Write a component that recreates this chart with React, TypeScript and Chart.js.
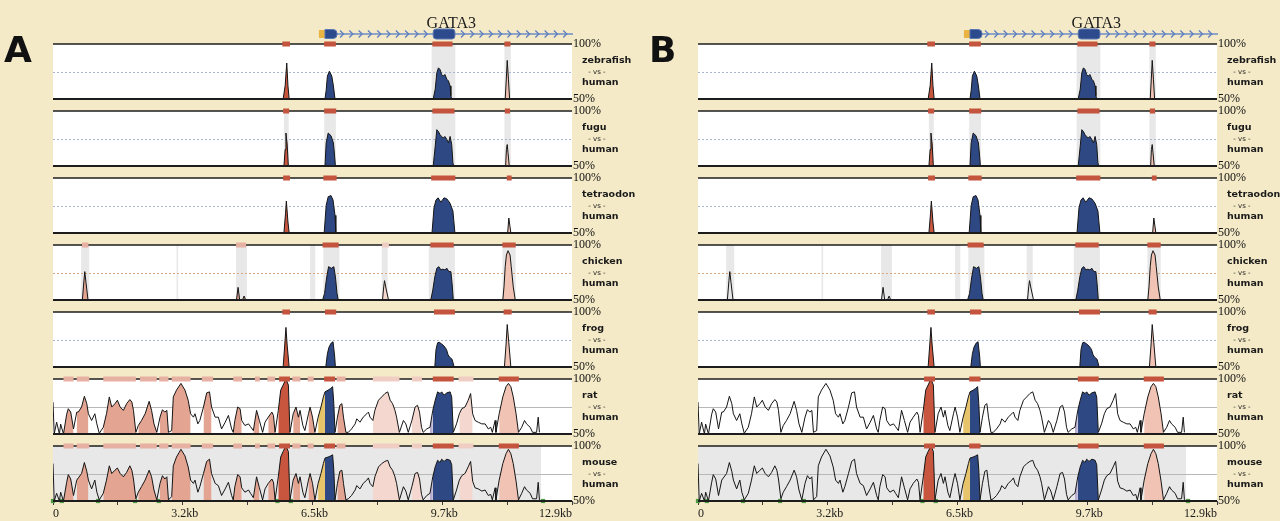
import React, { useEffect, useRef } from 'react';
import { Chart, registerables } from 'chart.js';

Chart.register(...registerables);

const BEIGE = '#f4eac7';
const CANVAS_W = 645;
const CANVAS_H = 521;
const PLOT_RIGHT = 572;

// ---------- axis / labels ----------
const trackNames = ['zebrafish', 'fugu', 'tetraodon', 'chicken', 'frog', 'rat', 'mouse'];
const midlineColors = ['#a9b6cf', '#a9b6cf', '#a9b6cf', '#d9aa80', '#a9b6cf', '#b8b8b8', '#b8b8b8'];
const xTickKb = [0, 1.6125, 3.225, 4.8375, 6.45, 8.0625, 9.675, 11.2875, 12.9];
const xTickText = ['0', '', '3.2kb', '', '6.5kb', '', '9.7kb', '', '12.9kb'];
const pctTicks = [50, 100];

// ---------- gene annotation ----------
const geneName = 'GATA3';
const geneSpanKb = [6.61, 12.9];
const geneUtrKb = [6.61, 6.76];
const geneExonsKb = [[6.76, 7.06], [9.45, 9.99]];

// ---------- conservation curves [kb, % identity] ----------
const zebrafishPct = [
  [5.72, 50], [5.77, 62], [5.81, 82.7], [5.84, 62], [5.87, 50],
  [6.76, 50], [6.79, 58], [6.82, 70.8], [6.87, 75.3], [6.93, 70.8], [6.97, 61.9], [7.01, 50],
  [9.45, 50], [9.5, 58.9], [9.54, 73.8], [9.58, 78.3], [9.62, 76.8], [9.66, 72.3], [9.7, 70.8],
  [9.74, 72.3], [9.79, 67.9], [9.83, 66.4], [9.87, 61.9], [9.89, 53], [9.91, 50],
  [11.24, 50], [11.27, 70], [11.29, 85.1], [11.32, 68], [11.35, 50],
];
const fuguPct = [
  [5.74, 50], [5.77, 65], [5.79, 80], [5.82, 70], [5.85, 50],
  [6.76, 50], [6.79, 71], [6.84, 80], [6.91, 77.5], [6.97, 71], [7.0, 59], [7.02, 50],
  [9.45, 50], [9.5, 68], [9.54, 83], [9.58, 81.4], [9.62, 78.4], [9.66, 76.9], [9.7, 75.4],
  [9.74, 76.9], [9.79, 74], [9.83, 71], [9.87, 76.9], [9.91, 69.5], [9.94, 53], [9.96, 50],
  [11.25, 50], [11.27, 65], [11.29, 69.5], [11.31, 62], [11.34, 50],
];
const tetraodonPct = [
  [5.74, 50], [5.78, 68], [5.8, 79], [5.84, 60], [5.87, 50],
  [6.74, 50], [6.79, 75], [6.84, 83], [6.91, 84], [6.96, 80], [7.01, 66], [7.03, 50],
  [9.42, 50], [9.47, 73], [9.52, 80], [9.57, 82], [9.64, 78], [9.72, 82], [9.79, 81],
  [9.87, 77], [9.94, 70], [9.99, 50],
  [11.3, 50], [11.33, 63.6], [11.38, 50],
];
const chickenPct = [
  [0.73, 50], [0.77, 68], [0.79, 75.8], [0.82, 66], [0.87, 50],
  [4.56, 50], [4.6, 61.5], [4.64, 50], [4.71, 50], [4.75, 53.6], [4.79, 50],
  [6.7, 50], [6.75, 56], [6.8, 70], [6.85, 80.3], [6.92, 78.8], [6.98, 80.3], [7.02, 71], [7.06, 56], [7.09, 50],
  [8.19, 50], [8.22, 62], [8.24, 67.6], [8.28, 60], [8.34, 50],
  [9.39, 50], [9.44, 59], [9.49, 71], [9.54, 78.8], [9.59, 80.3], [9.64, 77.4], [9.69, 78],
  [9.74, 77.4], [9.79, 78.8], [9.84, 75.8], [9.89, 75.8], [9.92, 65], [9.95, 50],
  [11.18, 50], [11.21, 62], [11.24, 80.3], [11.27, 90.9], [11.31, 94.8], [11.36, 90.9],
  [11.39, 80.3], [11.44, 62], [11.49, 50],
];
const frogPct = [
  [5.72, 50], [5.76, 70], [5.79, 86], [5.82, 70], [5.87, 50],
  [6.78, 50], [6.82, 62], [6.86, 68], [6.91, 71.5], [6.96, 73], [7.0, 60], [7.02, 50],
  [9.49, 50], [9.52, 66], [9.56, 72], [9.6, 72.5], [9.66, 71], [9.72, 69], [9.78, 66],
  [9.82, 61], [9.87, 58.5], [9.92, 57], [9.97, 50],
  [11.22, 50], [11.26, 70], [11.29, 88.6], [11.33, 72], [11.38, 50],
];
const ratPct = [
  [0, 79], [0.03, 50], [0.09, 60.7], [0.16, 50], [0.19, 59], [0.26, 50], [0.34, 68], [0.38, 73],
  [0.44, 70], [0.51, 54.6], [0.59, 69.9], [0.63, 70], [0.71, 74.5], [0.78, 84.3], [0.84, 77.6],
  [0.88, 68.4], [0.96, 62.3], [1.04, 68.4], [1.09, 59.2], [1.15, 50.6], [1.25, 56.1], [1.33, 68.4],
  [1.4, 83.7], [1.46, 74.5], [1.54, 77.6], [1.6, 80.7], [1.67, 74.5], [1.75, 71.5], [1.83, 77.6],
  [1.91, 81.3], [1.96, 79.1], [2.0, 71.5], [2.06, 51.5], [2.12, 57.7], [2.2, 62.3], [2.29, 68.4],
  [2.39, 79.7], [2.45, 71.5], [2.51, 59.2], [2.58, 51.5], [2.66, 65.3], [2.72, 72.1], [2.78, 69.9],
  [2.83, 71.5], [2.87, 51.5], [2.95, 53.1], [2.99, 83.7], [3.07, 89.9], [3.18, 96], [3.28, 89.9],
  [3.36, 80.7], [3.42, 68.4], [3.49, 65.3], [3.53, 68.4], [3.6, 59.2], [3.65, 62.3], [3.74, 74.5],
  [3.82, 87.4], [3.89, 88.3], [3.94, 74.5], [4.03, 65.3], [4.11, 65.3], [4.19, 54.6], [4.28, 60.7],
  [4.36, 66.9], [4.44, 54.6], [4.48, 51.5], [4.52, 62.3], [4.59, 74.5], [4.65, 73], [4.69, 62.3],
  [4.77, 57.7], [4.86, 59.2], [4.91, 56.7], [4.98, 53.1], [5.06, 71.5], [5.13, 62.3], [5.21, 51.5],
  [5.27, 60.7], [5.35, 65.3], [5.44, 69.9], [5.48, 66.9], [5.52, 51.5], [5.6, 71.5], [5.66, 89.9],
  [5.72, 94.5], [5.79, 100], [5.85, 94.5], [5.89, 51.5], [5.97, 68.4], [6.04, 74.5], [6.1, 65.3],
  [6.14, 71.5], [6.21, 57.7], [6.26, 53.1], [6.35, 68.4], [6.39, 74.5], [6.45, 65.3], [6.51, 51.5],
  [6.59, 65.3], [6.66, 74.5], [6.72, 83.7], [6.76, 88.3], [6.84, 89.9], [6.9, 91.4], [6.95, 93],
  [6.98, 77.6], [7.01, 51.5], [7.07, 65.3], [7.13, 76.1], [7.18, 77.6], [7.22, 65.3], [7.28, 51.5],
  [7.34, 51.5], [7.42, 54.6], [7.51, 59.2], [7.55, 63.8], [7.63, 60.7], [7.71, 65.3], [7.8, 68.4],
  [7.84, 69.9], [7.88, 65.3], [7.95, 62.3], [8.0, 71.5], [8.09, 80.7], [8.17, 83.7], [8.25, 86.8],
  [8.32, 88.3], [8.38, 80.7], [8.44, 77.6], [8.5, 71.5], [8.54, 65.3], [8.61, 51.5], [8.71, 62.3],
  [8.77, 59.2], [8.83, 51.5], [8.92, 62.3], [9.0, 74.5], [9.06, 76.1], [9.11, 69.9], [9.16, 56.1],
  [9.2, 51.5], [9.29, 54.6], [9.37, 56.1], [9.44, 71.5], [9.5, 80.7], [9.56, 88.3], [9.62, 86.8],
  [9.66, 88.3], [9.72, 85.3], [9.79, 87.4], [9.87, 88.3], [9.91, 83.7], [9.95, 51.5], [10.03, 59.2],
  [10.1, 68.4], [10.16, 73], [10.24, 74.5], [10.32, 80.7], [10.38, 86.8], [10.43, 68.4], [10.49, 62.3],
  [10.57, 60.7], [10.66, 59.2], [10.74, 59.2], [10.82, 54.6], [10.88, 56.1], [10.92, 51.5], [10.99, 62.3],
  [11.01, 51.5], [11.09, 68.4], [11.18, 83.7], [11.26, 93], [11.32, 96], [11.38, 93], [11.44, 83.7],
  [11.51, 68.4], [11.57, 51.5], [11.65, 56.1], [11.72, 62.3], [11.77, 59.2], [11.86, 56.1], [11.92, 51.5],
  [12.02, 51.5], [12.06, 65.3], [12.09, 51.5],
];
const mousePct = [
  [0, 84], [0.03, 50], [0.09, 57], [0.16, 50], [0.19, 58], [0.26, 50], [0.34, 67], [0.38, 74],
  [0.44, 70], [0.51, 55], [0.59, 69], [0.63, 71], [0.71, 75], [0.78, 85], [0.84, 77],
  [0.88, 69], [0.96, 61], [1.04, 69], [1.09, 58], [1.15, 51], [1.25, 57], [1.33, 69],
  [1.4, 82], [1.46, 75], [1.54, 78], [1.6, 80], [1.67, 75], [1.75, 72], [1.83, 76],
  [1.91, 82], [1.96, 78], [2.0, 70], [2.06, 52], [2.12, 58], [2.2, 63], [2.29, 69],
  [2.39, 78], [2.45, 72], [2.51, 60], [2.58, 51], [2.66, 66], [2.72, 73], [2.78, 70],
  [2.83, 72], [2.87, 51], [2.95, 54], [2.99, 82], [3.07, 90], [3.18, 97], [3.28, 91],
  [3.36, 81], [3.42, 69], [3.49, 66], [3.53, 69], [3.6, 58], [3.65, 63], [3.74, 75],
  [3.82, 86], [3.89, 88], [3.94, 75], [4.03, 66], [4.11, 64], [4.19, 55], [4.28, 61],
  [4.36, 67], [4.44, 55], [4.48, 51], [4.52, 63], [4.59, 74], [4.65, 72], [4.69, 62],
  [4.77, 58], [4.86, 60], [4.91, 57], [4.98, 53], [5.06, 72], [5.13, 62], [5.21, 51],
  [5.27, 61], [5.35, 66], [5.44, 70], [5.48, 67], [5.52, 51], [5.6, 72], [5.66, 90],
  [5.72, 95], [5.79, 100], [5.85, 95], [5.89, 51], [5.97, 69], [6.04, 75], [6.1, 66],
  [6.14, 72], [6.21, 58], [6.26, 53], [6.35, 69], [6.39, 75], [6.45, 66], [6.51, 51],
  [6.59, 66], [6.66, 75], [6.72, 84], [6.76, 89], [6.84, 90], [6.9, 91], [6.95, 92],
  [6.98, 78], [7.01, 51], [7.07, 66], [7.13, 77], [7.18, 78], [7.22, 66], [7.28, 51],
  [7.34, 52], [7.42, 55], [7.51, 60], [7.55, 64], [7.63, 61], [7.71, 66], [7.8, 69],
  [7.84, 71], [7.88, 66], [7.95, 63], [8.0, 72], [8.09, 81], [8.17, 84], [8.25, 86],
  [8.32, 87], [8.38, 81], [8.44, 78], [8.5, 72], [8.54, 66], [8.61, 51], [8.71, 63],
  [8.77, 59], [8.83, 51], [8.92, 63], [9.0, 75], [9.06, 76], [9.11, 70], [9.16, 56],
  [9.2, 51], [9.29, 55], [9.37, 57], [9.44, 72], [9.5, 81], [9.56, 87], [9.62, 85],
  [9.66, 88], [9.72, 86], [9.79, 88], [9.87, 87], [9.91, 83], [9.95, 51], [10.03, 60],
  [10.1, 69], [10.16, 73], [10.24, 75], [10.32, 81], [10.38, 86], [10.43, 68], [10.49, 62],
  [10.57, 61], [10.66, 59], [10.74, 60], [10.82, 55], [10.88, 56], [10.92, 51], [10.99, 62],
  [11.01, 51], [11.09, 69], [11.18, 84], [11.26, 93], [11.32, 97], [11.38, 93], [11.44, 84],
  [11.51, 68], [11.57, 51], [11.65, 57], [11.72, 63], [11.77, 60], [11.86, 57], [11.92, 52],
  [12.02, 52], [12.06, 67], [12.09, 51],
];
const mouseGreenKb = [0.0, 0.22, 1.12, 2.04, 2.63, 5.58, 5.91, 12.18];
const mouseShadeKb = [0, 12.13];

// ---------- highlighted regions [startKb, endKb, kind] ----------
const zebrafishRegions = [[5.7, 5.89, 'R'], [6.74, 7.03, 'B'], [9.43, 9.93, 'B'], [11.22, 11.37, 'P']];
const fuguRegions = [[5.72, 5.87, 'R'], [6.74, 7.04, 'B'], [9.43, 9.98, 'B'], [11.23, 11.36, 'P']];
const tetraodonRegions = [[5.72, 5.89, 'R'], [6.72, 7.05, 'B'], [9.4, 10.0, 'B'], [11.28, 11.4, 'P']];
const chickenRegionsA = [[0.72, 0.88, 'S'], [4.55, 4.8, 'S'], [6.7, 7.1, 'B'], [8.18, 8.35, 'L'], [9.38, 9.96, 'B'], [11.17, 11.5, 'P']];
const chickenRegionsB = [[6.7, 7.1, 'B'], [9.38, 9.96, 'B'], [11.17, 11.5, 'P']];
const frogRegions = [[5.7, 5.89, 'R'], [6.76, 7.04, 'B'], [9.47, 9.99, 'B'], [11.2, 11.4, 'P']];
const ratRegionsA = [
  [0.26, 0.51, 'S'], [0.59, 0.9, 'S'], [1.25, 2.06, 'S'], [2.16, 2.58, 'S'], [2.64, 2.87, 'S'],
  [2.95, 3.42, 'S'], [3.7, 3.98, 'S'], [4.48, 4.7, 'S'], [5.02, 5.14, 'S'], [5.33, 5.52, 'S'],
  [5.62, 5.89, 'R'], [5.95, 6.15, 'S'], [6.33, 6.48, 'S'], [6.58, 6.74, 'Y'], [6.74, 7.01, 'B'],
  [7.05, 7.27, 'S'], [7.95, 8.61, 'L'], [8.92, 9.17, 'L'], [9.36, 9.44, 'V'], [9.44, 9.96, 'B'],
  [10.08, 10.45, 'L'], [11.08, 11.58, 'P'],
];
const mouseRegionsA = ratRegionsA;
const ratRegionsB = [[5.62, 5.89, 'R'], [6.58, 6.74, 'Y'], [6.74, 7.02, 'B'], [9.36, 9.44, 'V'], [9.44, 9.96, 'B'], [11.08, 11.58, 'P']];
const mouseRegionsB = ratRegionsB;

// ---------- grey bands under conserved elements ----------
const zebrafishBands = [[9.41, 10.0], [11.22, 11.38]];
const fuguBands = [[5.74, 5.86], [6.74, 7.03], [9.41, 10.0], [11.22, 11.38]];
const chickenBands = [[0.7, 0.9], [3.07, 3.11], [4.55, 4.82], [6.39, 6.52], [6.72, 7.12], [8.17, 8.32], [9.34, 9.99], [11.17, 11.5]];

const trackCurves = [zebrafishPct, fuguPct, tetraodonPct, chickenPct, frogPct, ratPct, mousePct];
const trackBands = [zebrafishBands, fuguBands, [], chickenBands, [], [], []];
const regionsPanelA = [zebrafishRegions, fuguRegions, tetraodonRegions, chickenRegionsA, frogRegions, ratRegionsA, mouseRegionsA];
const regionsPanelB = [zebrafishRegions, fuguRegions, tetraodonRegions, chickenRegionsB, frogRegions, ratRegionsB, mouseRegionsB];

const fillColors: Record<string, string> = {
  R: '#c8563e', B: '#2e4884', Y: '#e7c36a', P: '#f1c3b4', S: '#e3a492', L: '#f4d7ce', V: '#b9aed2',
};
const markColors: Record<string, string | null> = {
  R: '#c4543e', B: '#c4543e', Y: null, P: '#c4543e', S: '#e6b0a2', L: '#efcdc3', V: null,
};

function makeDecor(letter: string, regions: any[]) {
  return {
    id: 'panelDecor',
    beforeDraw(chart: any) {
      const { ctx, width, height } = chart;
      const x = chart.scales.x;
      const px = (v: number) => x.getPixelForValue(v);
      ctx.save();
      ctx.fillStyle = BEIGE;
      ctx.fillRect(0, 0, width, height);
      // panel letter
      ctx.fillStyle = '#111';
      ctx.font = 'bold 36px "DejaVu Sans"';
      ctx.textAlign = 'left';
      ctx.textBaseline = 'alphabetic';
      ctx.fillText(letter, 4, 62);
      // gene line
      const gy = 34;
      ctx.strokeStyle = '#6e8dc6';
      ctx.lineWidth = 1.5;
      ctx.beginPath();
      ctx.moveTo(px(geneSpanKb[0]), gy);
      ctx.lineTo(px(geneSpanKb[1]) + 1, gy);
      ctx.stroke();
      // chevrons (direction of transcription)
      ctx.strokeStyle = '#5a7cbf';
      ctx.lineWidth = 1.2;
      const c0 = px(geneExonsKb[0][1]) + 5;
      const c1 = px(geneSpanKb[1]) - 2;
      for (let cx = c0; cx < c1; cx += 9.3) {
        if (cx > px(geneExonsKb[1][0]) - 3 && cx < px(geneExonsKb[1][1]) + 3) continue;
        ctx.beginPath();
        ctx.moveTo(cx - 2, gy - 3.5);
        ctx.lineTo(cx + 1.5, gy);
        ctx.lineTo(cx - 2, gy + 3.5);
        ctx.stroke();
      }
      // UTR box
      ctx.fillStyle = '#e9b441';
      ctx.fillRect(px(geneUtrKb[0]), 30, px(geneUtrKb[1]) - px(geneUtrKb[0]), 8);
      // exons
      ctx.fillStyle = '#2d4a8c';
      ctx.strokeStyle = '#5b79b6';
      ctx.lineWidth = 1;
      geneExonsKb.forEach(([s, e], k) => {
        ctx.beginPath();
        if (k === 0) ctx.roundRect(px(s), 29.5, px(e) - px(s), 9, [0, 4, 4, 0]);
        else ctx.roundRect(px(s), 29, px(e) - px(s), 10, 3);
        ctx.fill();
        ctx.stroke();
      });
      ctx.fillStyle = '#1a1a1a';
      ctx.font = '16px "Liberation Serif"';
      ctx.textAlign = 'center';
      ctx.fillText(geneName, px(9.9), 28);
      ctx.restore();
    },
    beforeDatasetsDraw(chart: any) {
      const { ctx, chartArea } = chart;
      const x = chart.scales.x;
      const px = (v: number) => x.getPixelForValue(v);
      ctx.save();
      trackNames.forEach((_, i) => {
        const s = chart.scales['y' + i];
        const T = s.getPixelForValue(100);
        const Bm = s.getPixelForValue(50);
        const M = s.getPixelForValue(75);
        ctx.fillStyle = '#ffffff';
        ctx.fillRect(chartArea.left, T, chartArea.right - chartArea.left, Bm - T);
        if (i === 6) {
          ctx.fillStyle = 'rgba(120,120,120,0.17)';
          ctx.fillRect(px(mouseShadeKb[0]), T, px(mouseShadeKb[1]) - px(mouseShadeKb[0]), Bm - T);
        }
        ctx.fillStyle = 'rgba(120,120,120,0.17)';
        trackBands[i].forEach(([a, b]) => {
          ctx.fillRect(px(a), T, px(b) - px(a), Bm - T);
        });
        ctx.strokeStyle = midlineColors[i];
        ctx.lineWidth = 1;
        ctx.setLineDash(i >= 5 ? [] : [2, 2]);
        ctx.beginPath();
        ctx.moveTo(chartArea.left, Math.round(M) + 0.5);
        ctx.lineTo(chartArea.right, Math.round(M) + 0.5);
        ctx.stroke();
        ctx.setLineDash([]);
      });
      ctx.restore();
    },
    afterDatasetsDraw(chart: any) {
      const { ctx, chartArea } = chart;
      const x = chart.scales.x;
      const px = (v: number) => x.getPixelForValue(v);
      ctx.save();
      trackNames.forEach((name, i) => {
        const s = chart.scales['y' + i];
        const T = s.getPixelForValue(100);
        const Bm = s.getPixelForValue(50);
        ctx.strokeStyle = '#1c1c1c';
        ctx.lineWidth = 1.5;
        ctx.beginPath();
        ctx.moveTo(chartArea.left, T);
        ctx.lineTo(chartArea.right, T);
        ctx.stroke();
        ctx.lineWidth = 2;
        ctx.beginPath();
        ctx.moveTo(chartArea.left, Bm);
        ctx.lineTo(chartArea.right, Bm);
        ctx.stroke();
        regions[i].forEach(([a, b, k]: [number, number, string]) => {
          const c = markColors[k];
          if (!c) return;
          ctx.fillStyle = c;
          ctx.fillRect(px(a), T - 2.5, Math.max(px(b) - px(a), 2), 5);
        });
        const lx = chartArea.right + 10;
        ctx.fillStyle = '#1a1a1a';
        ctx.textBaseline = 'middle';
        ctx.textAlign = 'left';
        ctx.font = 'bold 9.5px "DejaVu Sans"';
        ctx.fillText(name, lx, T + 16.5);
        ctx.fillText('human', lx, T + 38.5);
        ctx.font = '7px "DejaVu Sans"';
        ctx.textAlign = 'center';
        ctx.fillText('- vs -', lx + 15, T + 28.5);
      });
      // x-axis labels
      ctx.font = '12px "Liberation Serif"';
      ctx.fillStyle = '#1a1a1a';
      ctx.textBaseline = 'alphabetic';
      xTickKb.forEach((v, k) => {
        const t = xTickText[k];
        if (!t) return;
        const last = k === xTickKb.length - 1;
        ctx.textAlign = k === 0 ? 'left' : last ? 'right' : 'center';
        ctx.fillText(t, px(v) + (k === 0 || last ? 0 : 2), 517);
      });
      ctx.restore();
    },
  };
}

function buildConfig(letter: string, regions: any[]) {
  const datasets: any[] = [];
  trackCurves.forEach((curve, i) => {
    const regs = regions[i];
    const colorAt = (a: number, b: number) => {
      const m = (a + b) / 2;
      for (const r of regs) if (m >= r[0] && m <= r[1]) return fillColors[r[2]];
      return 'rgba(0,0,0,0)';
    };
    datasets.push({
      type: 'line',
      data: curve.map(([xv, yv]) => ({ x: xv, y: yv })),
      xAxisID: 'x',
      yAxisID: 'y' + i,
      borderColor: '#151515',
      borderWidth: 1,
      pointRadius: 0,
      tension: 0,
      fill: 'start',
      backgroundColor: 'rgba(0,0,0,0)',
      segment: {
        backgroundColor: (ctx: any) => colorAt(curve[ctx.p0DataIndex][0], curve[ctx.p1DataIndex][0]),
      },
    });
  });
  datasets.push({
    type: 'line',
    data: mouseGreenKb.map((xv) => ({ x: xv, y: 50 })),
    xAxisID: 'x',
    yAxisID: 'y6',
    showLine: false,
    pointRadius: 3,
    pointStyle: 'rect',
    pointBackgroundColor: '#4f9a45',
    pointBorderColor: '#4f9a45',
    pointBorderWidth: 0,
    fill: false,
    clip: false,
  });

  const scales: any = {
    x: {
      type: 'linear',
      position: 'bottom',
      min: 0,
      max: 12.9,
      afterBuildTicks: (s: any) => { s.ticks = xTickKb.map((v) => ({ value: v })); },
      afterFit: (s: any) => { s.height = 20; },
      ticks: { display: false },
      grid: { drawOnChartArea: false, drawTicks: true, tickLength: 4, color: '#3a3a3a', lineWidth: 1 },
      border: { display: false },
    },
  };
  trackNames.forEach((_, i) => {
    scales['y' + i] = {
      type: 'linear',
      position: 'right',
      stack: 'tracks',
      stackWeight: 1,
      min: 50,
      max: 100 + 12 / 1.1,
      afterBuildTicks: (s: any) => { s.ticks = pctTicks.map((v) => ({ value: v })); },
      afterFit: (s: any) => { s.width = CANVAS_W - PLOT_RIGHT; },
      ticks: {
        autoSkip: false,
        padding: 1,
        color: '#111',
        font: { family: '"Liberation Serif", serif', size: 12 },
        callback: (v: any) => v + '%',
      },
      grid: { display: false, drawTicks: false },
      border: { display: false },
    };
  });

  return {
    type: 'line',
    data: { datasets },
    options: {
      responsive: false,
      animation: false,
      devicePixelRatio: 1,
      events: [],
      layout: { padding: { left: 53, top: 32, right: 0, bottom: 0 } },
      plugins: { legend: { display: false }, tooltip: { enabled: false }, title: { display: false } },
      scales,
    },
    plugins: [makeDecor(letter, regions)],
  };
}

function Panel({ letter, regions, left }: { letter: string; regions: any[]; left: number }) {
  const ref = useRef<HTMLCanvasElement | null>(null);
  useEffect(() => {
    if (!ref.current) return;
    const chart = new Chart(ref.current, buildConfig(letter, regions) as any);
    return () => chart.destroy();
  }, [letter, regions]);
  return (
    <canvas
      ref={ref}
      width={CANVAS_W}
      height={CANVAS_H}
      style={{ position: 'absolute', left, top: 0, width: CANVAS_W, height: CANVAS_H, display: 'block' }}
    />
  );
}

export default function App() {
  return (
    <div style={{ position: 'fixed', left: 0, top: 0, width: 1280, height: 521, background: BEIGE, overflow: 'hidden' }}>
      <Panel letter="A" regions={regionsPanelA} left={0} />
      <Panel letter="B" regions={regionsPanelB} left={645} />
    </div>
  );
}
